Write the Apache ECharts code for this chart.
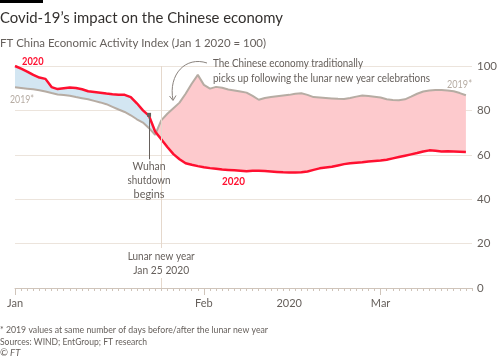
<!DOCTYPE html>
<html><head><meta charset="utf-8">
<script src="https://cdn.jsdelivr.net/npm/echarts@6/dist/echarts.min.js"></script>
<style>html,body{margin:0;padding:0;background:#fff}#c{width:500px;height:358px}</style>
</head><body><div id="c"></div>
<script>
// ---- data ----
const monthNames = ['Jan', 'Feb', 'Mar'];
const monthLengths = [31, 29, 16];
const days = [];
monthNames.forEach((m, k) => { for (let d = 1; d <= monthLengths[k]; d++) days.push(m + ' ' + d); });

const tickLabels = { 'Jan 1': 'Jan', 'Feb 1': 'Feb', 'Feb 15': '2020', 'Mar 1': 'Mar' };
const majorTicks = ['Jan 1', 'Feb 1', 'Mar 1'];
const yTicks = [0, 20, 40, 60, 80, 100];

const values2020 = [
  100, 98.8, 97.5, 96, 94.8, 94.2, 90.5, 89.6, 90, 90.3,
  90.1, 89.5, 88.6, 88.3, 88, 87.6, 87.3, 87.1, 87, 86,
  83.2, 80, 77.5, 70.5, 67, 63.5, 60.3, 58, 56.2, 55.5,
  54.9, 54.4, 54, 53.7, 53.4, 53.2, 53, 52.8, 52.6, 52.8,
  52.8, 52.7, 52.5, 52.3, 52.1, 52, 52, 52.1, 52.5, 53.2,
  53.9, 54.3, 54.6, 55.2, 55.8, 56.2, 56.4, 56.6, 57, 57.2,
  57.4, 57.8, 58.4, 59, 59.6, 60.2, 60.8, 61.5, 62, 61.8,
  61.5, 61.6, 61.5, 61.4, 61.3
];
const values2019 = [
  90.4, 90.1, 89.8, 89.5, 89.1, 88.5, 87.8, 87.2, 86.9, 86.6,
  86, 85.5, 85, 84.3, 83.6, 82.8, 81.6, 80.4, 79.3, 77.8,
  76, 74.5, 72, 69, 75.5, 78.5, 81, 83.5, 87.5, 92,
  96, 91.5, 89.8, 90.6, 90.2, 89.4, 89, 88.5, 88, 86.5,
  84.8, 85.6, 86, 86.4, 86.7, 87, 87.5, 87.7, 87, 86,
  85.8, 85.6, 85.4, 85.2, 85.1, 85.6, 86.2, 86.7, 86.5, 86.2,
  85.8, 85, 84.7, 84.6, 85, 86.2, 87.5, 88.5, 89, 89.2,
  89.2, 89, 88.6, 87.8, 86.8
];
const lunarNewYear = 'Jan 25';
const wuhanShutdown = 'Jan 23';

// ---- derived band series ----
const base = values2020.map((v, i) => Math.min(v, values2019[i]));
const above = values2020.map((v, i) => Math.max(0, v - values2019[i]));
const below = values2020.map((v, i) => Math.max(0, values2019[i] - v));

const FONT = 'Lato';
const GREY = '#66605c';
const chart = echarts.init(document.getElementById('c'), null, { renderer: 'canvas' });

const option = {
  animation: false,
  backgroundColor: '#fff',
  textStyle: { fontFamily: FONT },
  grid: { left: 15, right: 21, top: 66, bottom: 70 },
  xAxis: [{
    type: 'category', data: days, boundaryGap: false,
    axisLine: { lineStyle: { color: '#cfc4ba', width: 1 } },
    axisTick: { interval: 0, length: 3, lineStyle: { color: '#cfc4ba' } },
    axisLabel: { show: false },
    splitLine: { show: false }
  }, {
    type: 'category', data: days, boundaryGap: false, position: 'bottom',
    axisLine: { show: false },
    axisTick: { interval: (i, v) => majorTicks.includes(v), length: 7, lineStyle: { color: '#cfc4ba' } },
    axisLabel: {
      interval: (i, v) => v in tickLabels, formatter: v => tickLabels[v] || '',
      color: GREY, fontSize: 11, fontFamily: FONT, margin: 10
    }
  }],
  yAxis: {
    type: 'value', position: 'right', min: 0, max: 100, interval: 20,
    axisLine: { show: false }, axisTick: { show: false },
    axisLabel: { color: GREY, fontSize: 11.5, fontFamily: FONT, margin: 5 },
    splitLine: { lineStyle: { color: '#ece4dc', width: 1 } }
  },
  series: [
    { name: 'base', type: 'line', stack: 'band', data: base, showSymbol: false, silent: true,
      lineStyle: { width: 0 }, z: 1,
      markLine: {
        silent: true, symbol: 'none', label: { show: false },
        lineStyle: { color: '#e5d8cc', width: 1, type: 'solid' },
        data: [{ xAxis: lunarNewYear }]
      } },
    { name: 'above', type: 'line', stack: 'band', data: above, showSymbol: false, silent: true,
      lineStyle: { width: 0 }, areaStyle: { color: '#d3e6f2', opacity: 1 }, z: 2 },
    { name: 'below', type: 'line', stack: 'band', data: below, showSymbol: false, silent: true,
      lineStyle: { width: 0 }, areaStyle: { color: '#fdcacd', opacity: 1 }, z: 2 },
    { name: '2019*', type: 'line', data: values2019, showSymbol: false, z: 3,
      lineStyle: { color: '#b6aca3', width: 2 } },
    { name: '2020', type: 'line', data: values2020, showSymbol: false, z: 4,
      lineStyle: { color: '#ff1030', width: 2.5 },
      markLine: {
        silent: true, symbol: ['rect', 'none'], symbolSize: 4, label: { show: false },
        lineStyle: { color: GREY, width: 1, type: 'solid' },
        data: [[{ coord: [wuhanShutdown, 78] }, { coord: [wuhanShutdown, 58] }]]
      } }
  ]
};
chart.setOption(option);

const mctx = document.createElement('canvas').getContext('2d');
// text fitted to a target width (narrow FT typeface emulated by horizontal scaling)
function txt(x, y, text, style, targetW) {
  const st = Object.assign({ text, fontFamily: FONT, fill: GREY, fontSize: 11.5, fontWeight: 'normal', fontStyle: 'normal', textVerticalAlign: 'middle' }, style);
  let sx = 1;
  if (targetW) {
    mctx.font = st.fontStyle + ' ' + st.fontWeight + ' ' + st.fontSize + 'px ' + st.fontFamily;
    sx = targetW / mctx.measureText(text).width;
  }
  return { type: 'text', x, y, z: 100, scaleX: sx, style: st };
}
const px = (c, v) => chart.convertToPixel({ xAxisIndex: 0, yAxisIndex: 0 }, [c, v]);
const lny = px(lunarNewYear, 0);
const wu = px(wuhanShutdown, 0);

chart.setOption({
  graphic: [
    { type: 'rect', shape: { x: 0, y: 0, width: 43, height: 3 }, style: { fill: '#000' } },
    txt(0, 18, 'Covid-19’s impact on the Chinese economy', { fontSize: 15.5, fill: '#33302e' }, 283),
    txt(0, 43, 'FT China Economic Activity Index (Jan 1 2020 = 100)', { fontSize: 12 }, 266),
    txt(22, 61, '2020', { fill: '#ff1030', fontWeight: 'bold', fontSize: 12 }, 21.5),
    txt(10, 99, '2019*', { fill: '#b6aca3', fontSize: 12 }, 24),
    txt(222, 181, '2020', { fill: '#ff1030', fontWeight: 'bold', fontSize: 12 }, 23),
    txt(447, 84, '2019*', { fill: '#b6aca3', fontSize: 12 }, 25),
    txt(wu[0], 166, 'Wuhan', { textAlign: 'center', fontSize: 11 }, 33),
    txt(wu[0], 180, 'shutdown', { textAlign: 'center', fontSize: 11 }, 43),
    txt(wu[0], 194, 'begins', { textAlign: 'center', fontSize: 11 }, 31),
    { type: 'rect', z: 99, shape: { x: lny[0] - 2, y: 248, width: 4, height: 30 }, style: { fill: '#fff' } },
    txt(lny[0], 256, 'Lunar new year', { textAlign: 'center', fontSize: 11 }, 67),
    txt(lny[0], 270, 'Jan 25 2020', { textAlign: 'center', fontSize: 11 }, 56),
    txt(213, 63, 'The Chinese economy traditionally', { fontSize: 11 }, 150),
    txt(213, 78, 'picks up following the lunar new year celebrations', { fontSize: 11 }, 217),
    { type: 'bezierCurve', z: 100, shape: { x1: 207, y1: 63, cpx1: 186, cpy1: 56, cpx2: 168, cpy2: 74, x2: 173, y2: 100 },
      style: { stroke: '#8a837e', lineWidth: 1, fill: 'none' } },
    { type: 'polyline', z: 100, shape: { points: [[169.5, 96], [173, 100.5], [176, 95.5]] },
      style: { stroke: '#8a837e', lineWidth: 1, fill: 'none' } },
    txt(0, 330, '* 2019 values at same number of days before/after the lunar new year', { fontSize: 9.5 }, 268),
    txt(0, 342, 'Sources: WIND; EntGroup; FT research', { fontSize: 9.5 }, 147),
    txt(0, 353, '© FT', { fontSize: 9.5, fontStyle: 'italic' })
  ]
});
</script></body></html>
